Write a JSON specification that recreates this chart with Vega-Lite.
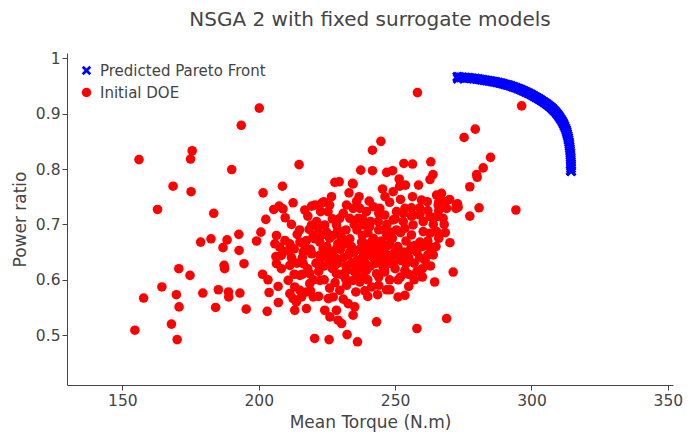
{
"$schema":"https://vega.github.io/schema/vega-lite/v6.json",
"width":606,"height":332,
"autosize":{"type":"none"},
"padding":{"left":67,"top":53,"right":25,"bottom":52},
"background":"white",
"title":{"text":"NSGA 2 with fixed surrogate models","fontSize":20,"font":"DejaVu Sans","fontWeight":"normal","color":"#444","anchor":"middle","frame":"group","baseline":"alphabetic","offset":5},
"config":{"view":{"stroke":null},
"axis":{"grid":false,"domainColor":"#444","tickColor":"#444","labelColor":"#444","titleColor":"#444","labelFont":"DejaVu Sans","titleFont":"DejaVu Sans","labelFontSize":15.5,"titleFontSize":17,"titleFontWeight":"normal","tickSize":5}},
"datasets":{
"pareto":[{"x":272.8,"y":0.9665},{"x":273.0,"y":0.963},{"x":273.4,"y":0.966},{"x":274.0,"y":0.9652},{"x":274.6,"y":0.9656},{"x":275.2,"y":0.9648},{"x":275.8,"y":0.9652},{"x":276.4,"y":0.9644},{"x":277.0,"y":0.9646},{"x":277.6,"y":0.9638},{"x":278.2,"y":0.964},{"x":278.8,"y":0.9632},{"x":279.4,"y":0.9633},{"x":280.0,"y":0.9625},{"x":280.6,"y":0.9624},{"x":281.2,"y":0.9618},{"x":281.8,"y":0.9614},{"x":282.4,"y":0.9609},{"x":283.0,"y":0.9605},{"x":283.6,"y":0.9598},{"x":284.2,"y":0.9595},{"x":284.8,"y":0.9589},{"x":285.4,"y":0.9585},{"x":286.0,"y":0.9578},{"x":286.6,"y":0.9574},{"x":287.2,"y":0.9566},{"x":287.8,"y":0.9561},{"x":288.4,"y":0.9553},{"x":289.0,"y":0.9547},{"x":289.6,"y":0.9539},{"x":290.2,"y":0.9532},{"x":290.8,"y":0.9523},{"x":291.4,"y":0.9516},{"x":292.0,"y":0.9506},{"x":292.6,"y":0.9498},{"x":293.2,"y":0.9487},{"x":293.8,"y":0.9478},{"x":294.4,"y":0.9466},{"x":295.0,"y":0.9456},{"x":295.6,"y":0.9443},{"x":296.2,"y":0.9432},{"x":296.8,"y":0.9418},{"x":297.4,"y":0.9406},{"x":298.0,"y":0.9391},{"x":298.6,"y":0.9378},{"x":299.2,"y":0.9362},{"x":299.8,"y":0.9348},{"x":300.4,"y":0.9331},{"x":301.0,"y":0.9316},{"x":301.6,"y":0.9298},{"x":302.2,"y":0.9282},{"x":302.8,"y":0.9263},{"x":303.4,"y":0.9246},{"x":304.0,"y":0.9226},{"x":304.6,"y":0.9207},{"x":305.2,"y":0.9186},{"x":305.8,"y":0.9165},{"x":306.4,"y":0.9143},{"x":307.0,"y":0.912},{"x":307.5,"y":0.9097},{"x":308.0,"y":0.9073},{"x":308.5,"y":0.9048},{"x":309.0,"y":0.9021},{"x":309.5,"y":0.8993},{"x":309.9,"y":0.8965},{"x":310.3,"y":0.8936},{"x":310.7,"y":0.8905},{"x":311.1,"y":0.8874},{"x":311.5,"y":0.8842},{"x":311.8,"y":0.881},{"x":312.1,"y":0.8777},{"x":312.4,"y":0.8743},{"x":312.7,"y":0.8708},{"x":312.9,"y":0.8673},{"x":313.1,"y":0.8637},{"x":313.3,"y":0.86},{"x":313.5,"y":0.8563},{"x":313.6,"y":0.8525},{"x":313.8,"y":0.8487},{"x":313.9,"y":0.8448},{"x":314.0,"y":0.8409},{"x":314.1,"y":0.837},{"x":314.2,"y":0.833},{"x":314.3,"y":0.829},{"x":314.3,"y":0.825},{"x":314.4,"y":0.821},{"x":314.4,"y":0.817},{"x":314.5,"y":0.813},{"x":314.5,"y":0.809},{"x":314.5,"y":0.805},{"x":314.5,"y":0.801},{"x":314.4,"y":0.797},{"x":314.6,"y":0.796}],
"doe":[{"x":156.1,"y":0.817},{"x":175.6,"y":0.833},{"x":175.0,"y":0.818},{"x":190.1,"y":0.799},{"x":214.8,"y":0.808},{"x":168.6,"y":0.769},{"x":175.2,"y":0.759},{"x":201.6,"y":0.757},{"x":208.7,"y":0.769},{"x":162.9,"y":0.727},{"x":183.5,"y":0.72},{"x":212.6,"y":0.739},{"x":205.5,"y":0.727},{"x":207.5,"y":0.733},{"x":208.9,"y":0.728},{"x":209.7,"y":0.712},{"x":202.6,"y":0.709},{"x":216.9,"y":0.726},{"x":219.4,"y":0.733},{"x":220.6,"y":0.735},{"x":178.7,"y":0.668},{"x":182.5,"y":0.674},{"x":188.4,"y":0.672},{"x":186.9,"y":0.658},{"x":192.7,"y":0.682},{"x":192.8,"y":0.653},{"x":199.2,"y":0.67},{"x":200.8,"y":0.686},{"x":194.6,"y":0.629},{"x":187.3,"y":0.626},{"x":187.5,"y":0.62},{"x":170.7,"y":0.62},{"x":174.8,"y":0.608},{"x":164.5,"y":0.587},{"x":157.8,"y":0.567},{"x":169.8,"y":0.573},{"x":170.8,"y":0.551},{"x":179.5,"y":0.576},{"x":185.2,"y":0.582},{"x":188.9,"y":0.578},{"x":189.0,"y":0.569},{"x":193.1,"y":0.576},{"x":184.2,"y":0.55},{"x":195.4,"y":0.547},{"x":203.1,"y":0.543},{"x":168.0,"y":0.52},{"x":154.6,"y":0.509},{"x":170.1,"y":0.492},{"x":220.5,"y":0.494},{"x":225.8,"y":0.492},{"x":232.4,"y":0.501},{"x":236.2,"y":0.488},{"x":243.2,"y":0.524},{"x":258.0,"y":0.512},{"x":268.9,"y":0.53},{"x":271.3,"y":0.614},{"x":264.5,"y":0.596},{"x":270.1,"y":0.667},{"x":268.4,"y":0.685},{"x":277.4,"y":0.715},{"x":280.8,"y":0.73},{"x":273.1,"y":0.731},{"x":272.9,"y":0.737},{"x":277.4,"y":0.768},{"x":280.1,"y":0.785},{"x":279.9,"y":0.79},{"x":282.3,"y":0.802},{"x":285.0,"y":0.821},{"x":275.3,"y":0.857},{"x":279.4,"y":0.872},{"x":244.8,"y":0.85},{"x":241.7,"y":0.834},{"x":237.4,"y":0.798},{"x":241.7,"y":0.797},{"x":253.2,"y":0.81},{"x":256.4,"y":0.809},{"x":263.1,"y":0.813},{"x":263.9,"y":0.79},{"x":262.8,"y":0.781},{"x":258.6,"y":0.771},{"x":251.5,"y":0.782},{"x":253.8,"y":0.771},{"x":251.7,"y":0.769},{"x":246.9,"y":0.794},{"x":249.1,"y":0.797},{"x":245.4,"y":0.764},{"x":246.3,"y":0.75},{"x":249.3,"y":0.759},{"x":234.6,"y":0.773},{"x":233.1,"y":0.757},{"x":227.9,"y":0.776},{"x":229.5,"y":0.777},{"x":226.7,"y":0.75},{"x":223.9,"y":0.741},{"x":258.2,"y":0.938},{"x":296.4,"y":0.914},{"x":294.3,"y":0.726},{"x":200.2,"y":0.91},{"x":193.6,"y":0.879},
{"x":201.4,"y":0.61},{"x":203.4,"y":0.6},{"x":207.1,"y":0.588},{"x":203.8,"y":0.577},{"x":207.2,"y":0.559},{"x":206.5,"y":0.629},{"x":208.3,"y":0.62},{"x":211.4,"y":0.626},{"x":210.8,"y":0.599},{"x":211.4,"y":0.575},{"x":213.2,"y":0.587},{"x":215.1,"y":0.581},{"x":212.6,"y":0.566},{"x":213.8,"y":0.56},{"x":213.2,"y":0.545},{"x":217.5,"y":0.548},{"x":215.7,"y":0.569},{"x":217.5,"y":0.578},{"x":220.0,"y":0.569},{"x":218.7,"y":0.593},{"x":222.4,"y":0.599},{"x":218.7,"y":0.611},{"x":215.1,"y":0.608},{"x":222.4,"y":0.623},{"x":216.3,"y":0.629},{"x":224.2,"y":0.545},{"x":225.5,"y":0.566},
{"x":251.1,"y":0.6},{"x":255.0,"y":0.588},{"x":253.6,"y":0.572},{"x":251.1,"y":0.569},{"x":248.1,"y":0.582},{"x":246.9,"y":0.582},{"x":243.6,"y":0.573},{"x":241.4,"y":0.587},{"x":238.9,"y":0.58},{"x":235.6,"y":0.578},{"x":237.1,"y":0.596},{"x":234.6,"y":0.599},{"x":232.2,"y":0.59},{"x":229.7,"y":0.581},{"x":227.3,"y":0.569},{"x":232.8,"y":0.557},{"x":235.2,"y":0.551},{"x":234.6,"y":0.536},{"x":228.5,"y":0.545},{"x":230.4,"y":0.521},{"x":229.1,"y":0.527},{"x":226.1,"y":0.533},{"x":253.6,"y":0.617},{"x":254.0,"y":0.629},{"x":249.3,"y":0.629},{"x":246.2,"y":0.614},{"x":243.2,"y":0.611},{"x":239.5,"y":0.617},{"x":235.9,"y":0.626},{"x":232.2,"y":0.617},{"x":228.5,"y":0.611},{"x":227.9,"y":0.626},{"x":231.6,"y":0.605},{"x":238.3,"y":0.605},{"x":245.6,"y":0.623},
{"x":206.5,"y":0.68},{"x":205.9,"y":0.665},{"x":207.7,"y":0.659},{"x":209.6,"y":0.671},{"x":211.4,"y":0.665},{"x":214.1,"y":0.682},{"x":213.0,"y":0.656},{"x":210.4,"y":0.652},{"x":208.3,"y":0.644},{"x":206.3,"y":0.642},{"x":223.0,"y":0.738},{"x":222.7,"y":0.723},{"x":225.4,"y":0.723},{"x":221.2,"y":0.705},{"x":219.4,"y":0.699},{"x":218.5,"y":0.691},{"x":221.8,"y":0.693},{"x":224.2,"y":0.699},{"x":224.9,"y":0.686},{"x":215.1,"y":0.668},{"x":217.5,"y":0.671},{"x":220.6,"y":0.674},{"x":222.4,"y":0.668},{"x":223.6,"y":0.656},{"x":216.3,"y":0.65},{"x":219.4,"y":0.647},{"x":222.4,"y":0.644},{"x":224.9,"y":0.644},
{"x":234.4,"y":0.774},{"x":236.8,"y":0.75},{"x":235.9,"y":0.742},{"x":240.5,"y":0.742},{"x":256.4,"y":0.75},{"x":259.7,"y":0.744},{"x":261.8,"y":0.741},{"x":265.2,"y":0.753},{"x":267.0,"y":0.756},{"x":268.3,"y":0.741},{"x":265.8,"y":0.735},{"x":268.9,"y":0.729},{"x":272.5,"y":0.735},{"x":272.3,"y":0.729},{"x":253.6,"y":0.729},{"x":250.5,"y":0.723},{"x":256.6,"y":0.717},{"x":259.1,"y":0.717},{"x":262.8,"y":0.714},{"x":265.2,"y":0.714},{"x":267.6,"y":0.711},{"x":260.3,"y":0.705},{"x":256.6,"y":0.699},{"x":253.0,"y":0.705},{"x":249.3,"y":0.708},{"x":246.2,"y":0.717},{"x":244.4,"y":0.729},{"x":242.0,"y":0.732},{"x":239.5,"y":0.723},{"x":237.1,"y":0.729},{"x":234.6,"y":0.729},{"x":232.2,"y":0.735},{"x":229.7,"y":0.711},{"x":228.5,"y":0.699},{"x":233.4,"y":0.711},{"x":236.5,"y":0.711},{"x":238.3,"y":0.699},{"x":240.7,"y":0.696},{"x":243.8,"y":0.705},{"x":245.6,"y":0.69},{"x":248.1,"y":0.686},{"x":250.5,"y":0.69},{"x":253.6,"y":0.693},{"x":256.0,"y":0.681},{"x":260.3,"y":0.687},{"x":262.8,"y":0.684},{"x":265.2,"y":0.687},{"x":262.8,"y":0.659},{"x":259.1,"y":0.668},{"x":257.3,"y":0.662},{"x":255.4,"y":0.653},{"x":252.4,"y":0.649},{"x":249.9,"y":0.65},{"x":247.5,"y":0.662},{"x":244.4,"y":0.668},{"x":241.4,"y":0.668},{"x":237.7,"y":0.668},{"x":233.4,"y":0.674},{"x":230.3,"y":0.677},{"x":227.3,"y":0.68},{"x":228.5,"y":0.656},{"x":233.4,"y":0.65},{"x":239.5,"y":0.65},{"x":244.4,"y":0.647},{"x":248.1,"y":0.644},
{"x":214,"y":0.63},{"x":216,"y":0.64},{"x":218,"y":0.62},{"x":219,"y":0.655},{"x":221,"y":0.63},{"x":222,"y":0.615},{"x":223,"y":0.64},{"x":224,"y":0.625},{"x":225,"y":0.66},{"x":226,"y":0.635},{"x":227,"y":0.65},{"x":227,"y":0.62},{"x":228,"y":0.64},{"x":229,"y":0.665},{"x":229,"y":0.63},{"x":230,"y":0.655},{"x":230,"y":0.61},{"x":231,"y":0.64},{"x":232,"y":0.665},{"x":232,"y":0.625},{"x":233,"y":0.645},{"x":234,"y":0.63},{"x":234,"y":0.66},{"x":235,"y":0.615},{"x":235,"y":0.65},{"x":236,"y":0.69},{"x":236,"y":0.635},{"x":237,"y":0.655},{"x":237,"y":0.62},{"x":238,"y":0.68},{"x":238,"y":0.64},{"x":239,"y":0.665},{"x":239,"y":0.63},{"x":240,"y":0.685},{"x":240,"y":0.645},{"x":241,"y":0.625},{"x":241,"y":0.655},{"x":242,"y":0.675},{"x":242,"y":0.64},{"x":243,"y":0.66},{"x":243,"y":0.63},{"x":244,"y":0.69},{"x":244,"y":0.65},{"x":245,"y":0.635},{"x":245,"y":0.67},{"x":246,"y":0.655},{"x":246,"y":0.62},{"x":247,"y":0.68},{"x":247,"y":0.64},{"x":248,"y":0.665},{"x":248,"y":0.63},{"x":249,"y":0.675},{"x":250,"y":0.645},{"x":250,"y":0.62},{"x":251,"y":0.66},{"x":252,"y":0.635},{"x":252,"y":0.685},{"x":253,"y":0.65},{"x":254,"y":0.67},{"x":255,"y":0.64},{"x":256,"y":0.66},{"x":257,"y":0.63},{"x":258,"y":0.65},{"x":259,"y":0.64},{"x":260,"y":0.66},{"x":261,"y":0.635},{"x":262,"y":0.645},{"x":258,"y":0.615},{"x":255,"y":0.61},{"x":252,"y":0.605},{"x":248,"y":0.6},{"x":244,"y":0.605},{"x":240,"y":0.6},{"x":236,"y":0.605},{"x":232,"y":0.6},{"x":228,"y":0.595},{"x":224,"y":0.6},{"x":220,"y":0.6},{"x":216,"y":0.61},{"x":212,"y":0.64},{"x":213,"y":0.61},{"x":217,"y":0.66},{"x":220,"y":0.68},{"x":223,"y":0.68},{"x":226,"y":0.675},{"x":229,"y":0.69},{"x":232,"y":0.69},{"x":235,"y":0.7},{"x":238,"y":0.71},{"x":241,"y":0.705},{"x":244,"y":0.72},{"x":247,"y":0.7},{"x":250,"y":0.71},{"x":253,"y":0.72},{"x":256,"y":0.73},{"x":259,"y":0.73},{"x":262,"y":0.725},{"x":264,"y":0.7},{"x":266,"y":0.725},{"x":262,"y":0.67},{"x":265,"y":0.66},{"x":264,"y":0.645},{"x":260,"y":0.62},{"x":263,"y":0.625},{"x":266,"y":0.74},{"x":270,"y":0.745},{"x":268,"y":0.7},{"x":266,"y":0.675},{"x":257,"y":0.6},{"x":260,"y":0.605},{"x":226,"y":0.585},{"x":222,"y":0.57},{"x":219,"y":0.58},{"x":231,"y":0.565},{"x":240,"y":0.57},{"x":244,"y":0.59},{"x":215,"y":0.69},{"x":212,"y":0.7},{"x":218,"y":0.715},{"x":227,"y":0.71},{"x":231,"y":0.72},{"x":226,"y":0.735},{"x":248,"y":0.74},{"x":252,"y":0.745},{"x":256,"y":0.715}]
},
"layer":[
{"data":{"name":"pareto"},"mark":{"type":"point","filled":true,"opacity":1,"size":110,"strokeWidth":0},
"encoding":{"x":{"field":"x","type":"quantitative"},"y":{"field":"y","type":"quantitative"},
"color":{"datum":"Predicted Pareto Front"},"shape":{"datum":"Predicted Pareto Front"}}},
{"data":{"name":"doe"},"mark":{"type":"point","filled":true,"opacity":1,"size":92,"strokeWidth":0},
"encoding":{"x":{"field":"x","type":"quantitative"},"y":{"field":"y","type":"quantitative"},
"color":{"datum":"Initial DOE"},"shape":{"datum":"Initial DOE"}}}
],
"resolve":{"scale":{"color":"shared","shape":"shared"}},
"encoding":{
"x":{"field":"x","type":"quantitative","scale":{"domain":[129.7,351.9],"nice":false,"zero":false},"axis":{"values":[150,200,250,300,350],"title":"Mean Torque (N.m)","labelPadding":3,"titlePadding":6}},
"y":{"field":"y","type":"quantitative","scale":{"domain":[0.41,1.0095],"nice":false,"zero":false},"axis":{"values":[0.5,0.6,0.7,0.8,0.9,1],"format":"~g","title":"Power ratio","labelPadding":2,"titlePadding":6}},
"color":{"type":"nominal","scale":{"domain":["Predicted Pareto Front","Initial DOE"],"range":["#0000ff","#ff0000"]},"legend":{"orient":"none","legendX":12,"legendY":10,"title":null,"symbolSize":90,"labelFontSize":15,"labelColor":"#444","labelFont":"DejaVu Sans","labelLimit":0,"rowPadding":6,"labelOffset":6,"padding":0,"symbolStrokeWidth":0}},
"shape":{"type":"nominal","scale":{"domain":["Predicted Pareto Front","Initial DOE"],"range":["M-1,-0.6L-0.6,-1L0,-0.4L0.6,-1L1,-0.6L0.4,0L1,0.6L0.6,1L0,0.4L-0.6,1L-1,0.6L-0.4,0Z","circle"]},"legend":{"orient":"none","legendX":12,"legendY":10,"title":null,"symbolSize":90,"labelFontSize":15,"labelColor":"#444","labelFont":"DejaVu Sans","labelLimit":0,"rowPadding":6,"labelOffset":6,"padding":0,"symbolStrokeWidth":0}}
}
}
